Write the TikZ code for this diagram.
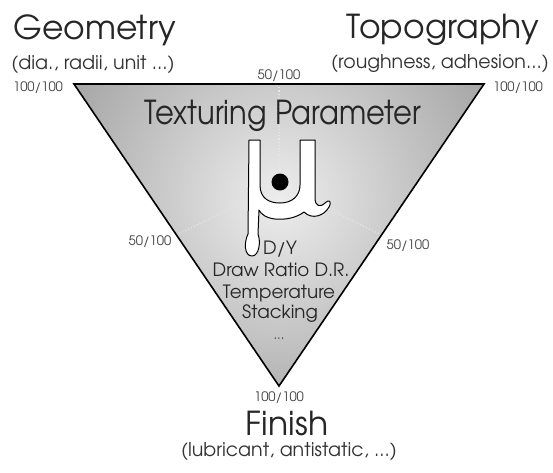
\documentclass[tikz,border=0pt]{standalone}
\usepackage{fontspec}
\setmainfont{TeX Gyre Adventor}
\usetikzlibrary{calc}
\begin{document}
\begin{tikzpicture}[x=1pt,y=-1pt,
  big/.style={font=\fontsize{33}{36}\selectfont, text=black!85, inner sep=0},
  sub/.style={font=\fontsize{19}{21}\selectfont, text=black!80, inner sep=0},
  pct/.style={font=\fontsize{13}{15}\selectfont, text=black!75, inner sep=0},
  inner/.style={font=\fontsize{18.3}{20}\selectfont, text=black!85, inner sep=0},
  guide/.style={dotted, line width=1.2pt, white!80!gray},
  edge/.style={line width=1.6pt, black}]
\useasboundingbox (0,0) rectangle (553,472);
\fill[white] (0,0) rectangle (553,472);
% triangle corners
\coordinate (A) at (74,84);
\coordinate (B) at (484,84);
\coordinate (C) at (279,386);
\coordinate (M) at (279,185);
\coordinate (Mt) at ($(A)!0.5!(B)$);
\coordinate (Ml) at ($(A)!0.5!(C)$);
\coordinate (Mr) at ($(B)!0.5!(C)$);
\begin{scope}
  \clip (A) -- (B) -- (C) -- cycle;
  \shade[inner color=black!7, outer color=black!57] (279,200) circle (420);
\end{scope}
\draw[guide] (Mt) -- (M);
\draw[guide] (Ml) -- (M);
\draw[guide] (Mr) -- (M);
\draw[edge, line join=miter] (A) -- (B) -- (C) -- cycle;
% mu symbol
\draw[fill=white, line width=1pt, line join=round]
  (249,140) -- (260,140) -- (260,185)
  .. controls (260,199) and (270,203) .. (280,203)
  .. controls (292,203) and (300,196) .. (300,185)
  -- (300,140) -- (315,140) -- (315,198)
  .. controls (315,206) and (320,208) .. (325,203)
  .. controls (329,199) and (332,201) .. (329,207)
  .. controls (324,216) and (312,220) .. (304,212)
  .. controls (296,218) and (285,220) .. (275,219)
  .. controls (266,218) and (261,214) .. (259,210)
  -- (258,234)
  .. controls (261,242) and (259,256) .. (252,256)
  .. controls (244,256) and (244,242) .. (248,234)
  -- cycle;
\fill[black] (280,182) circle (8.5);
% headings
\node[big] (geo) at (95,30) {Geometry};
\node[sub] (geos) at (93,65) {(dia., radii, unit ...)};
\node[big] (topo) at (443,30) {Topography};
\node[sub] (topos) at (440,64) {(roughness, adhesion...)};
\node[big] (fin) at (287,424) {Finish};
\node[sub] (fins) at (289,452) {(lubricant, antistatic, ...)};
\node[big, font=\fontsize{33}{36}\selectfont] (tp) at (283,116) {\scalebox{0.88}[1]{Texturing Parameter}};
% percentages
\node[pct] (p1) at (38,88) {100/100};
\node[pct] (p2) at (279,76) {50/100};
\node[pct] (p3) at (518,88) {100/100};
\node[pct] (p4) at (150,242) {50/100};
\node[pct] (p5) at (408,246) {50/100};
\node[pct] (p6) at (279,398) {100/100};
% inner list
\node[inner] (t1) at (280,249) {D/Y};
\node[inner] (t2) at (281,270) {Draw Ratio D.R.};
\node[inner] (t3) at (279,293) {Temperature};
\node[inner] (t4) at (280,314) {Stacking};
\node[pct] (t5) at (279,339) {...};
\end{tikzpicture}
\end{document}
